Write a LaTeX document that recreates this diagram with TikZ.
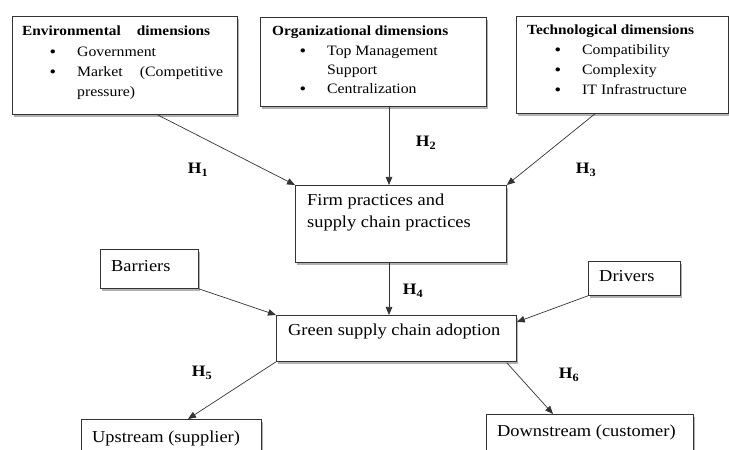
\documentclass[tikz,border=0pt]{standalone}
\usepackage{fontspec}
\setmainfont{Liberation Serif}[FakeStretch=1.1]
\usetikzlibrary{arrows.meta,shadows,calc}
\begin{document}
\begin{tikzpicture}[x=1bp,y=-1bp,
  box/.style={draw=black!80, line width=0.8bp, fill=white, anchor=north west, inner sep=0,
    drop shadow={shadow xshift=2bp, shadow yshift=-2.5bp, fill=black, opacity=0.3}},
  lbl/.style={anchor=base west, inner sep=0},
  mainf/.style={font=\fontsize{16.8}{20}\selectfont},
  headf/.style={font=\fontsize{14}{17}\selectfont\bfseries},
  itmf/.style={font=\fontsize{14.4}{20}\selectfont},
  bul/.style={anchor=base, inner sep=0, font=\fontsize{17}{20}\selectfont},
  hyp/.style={font=\fontsize{16}{18}\selectfont\bfseries, inner sep=0},
  arr/.style={draw=black!80, line width=0.7bp, -{Triangle[length=8bp,width=6.5bp]}}]
\useasboundingbox (0,0) rectangle (729,450);
\clip (0,0) rectangle (729,450);

% boxes
\node[box, minimum width=225bp, minimum height=98bp] (env) at (12,16) {};
\node[box, minimum width=226bp, minimum height=89bp] (org) at (260,17) {};
\node[box, minimum width=212bp, minimum height=97bp] (tech) at (516,16) {};
\node[box, minimum width=211bp, minimum height=77bp] (firm) at (295,185) {};
\node[box, minimum width=98bp, minimum height=39bp] (barriers) at (100,249) {};
\node[box, minimum width=92bp, minimum height=34bp] (drivers) at (588,261) {};
\node[box, minimum width=240bp, minimum height=46bp] (green) at (276,315) {};
\node[box, minimum width=180bp, minimum height=60bp] (upstream) at (81,419) {};
\node[box, minimum width=207bp, minimum height=60bp] (downstream) at (486,414) {};

% environmental texts
\node[lbl, headf] (envh) at (22,36) {\makebox[188bp][s]{Environmental dimensions}};
\node[bul] (envb1) at (53,58) {\textbullet};
\node[lbl, itmf] (envi1) at (77,57) {Government};
\node[bul] (envb2) at (53,78) {\textbullet};
\node[lbl, itmf] (envi2) at (77,77) {\makebox[146bp][s]{Market (Competitive}};
\node[lbl, itmf] (envi3) at (77,97) {pressure)};

% organizational texts
\node[lbl, headf] (orgh) at (272,36) {Organizational dimensions};
\node[bul] (orgb1) at (303,57) {\textbullet};
\node[lbl, itmf] (orgi1) at (327,56) {Top Management};
\node[lbl, itmf] (orgi2) at (327,75) {Support};
\node[bul] (orgb2) at (303,95) {\textbullet};
\node[lbl, itmf] (orgi3) at (327,94) {Centralization};

% technological texts
\node[lbl, headf] (techh) at (527,35) {Technological dimensions};
\node[bul] (techb1) at (558,56) {\textbullet};
\node[lbl, itmf] (techi1) at (582,55) {Compatibility};
\node[bul] (techb2) at (558,76) {\textbullet};
\node[lbl, itmf] (techi2) at (582,75) {Complexity};
\node[bul] (techb3) at (558,96) {\textbullet};
\node[lbl, itmf] (techi3) at (582,95) {IT Infrastructure};

% other texts
\node[lbl, mainf] (firmt1) at (307,206) {Firm practices and};
\node[lbl, mainf] (firmt2) at (307,228) {supply chain practices};
\node[lbl, mainf] (barrierst) at (111,272) {Barriers};
\node[lbl, mainf] (driverst) at (599,282) {Drivers};
\node[lbl, mainf] (greent) at (288,336) {Green supply chain adoption};
\node[lbl, mainf] (upstreamt) at (92,442) {Upstream (supplier)};
\node[lbl, mainf] (downstreamt) at (497,436) {Downstream (customer)};

% arrows
\draw[arr] ($(env.south west)!0.644!(env.south east)$) -- (firm.north west);
\draw[arr] ($(org.south west)+(129,0)$) -- ($(firm.north west)+(94,0)$);
\draw[arr] ($(tech.south west)+(79,0)$) -- (firm.north east);
\draw[arr] ($(firm.south west)+(94,0)$) -- ($(green.north west)+(113,0)$);
\draw[arr] (barriers.south east) -- (green.north west);
\draw[arr] (drivers.south west) -- ($(green.north east)+(0,7)$);
\draw[arr] (green.south west) -- ($(upstream.north west)+(107,0)$);
\draw[arr] ($(green.south east)+(-10,1)$) -- ($(downstream.north west)+(67,0)$);

% hypothesis labels
\node[hyp] (h1) at (198,170) {H\textsubscript{1}};
\node[hyp] (h2) at (426,143) {H\textsubscript{2}};
\node[hyp] (h3) at (586,170) {H\textsubscript{3}};
\node[hyp] (h4) at (413,291) {H\textsubscript{4}};
\node[hyp] (h5) at (202,373) {H\textsubscript{5}};
\node[hyp] (h6) at (569,375) {H\textsubscript{6}};
\end{tikzpicture}
\end{document}
